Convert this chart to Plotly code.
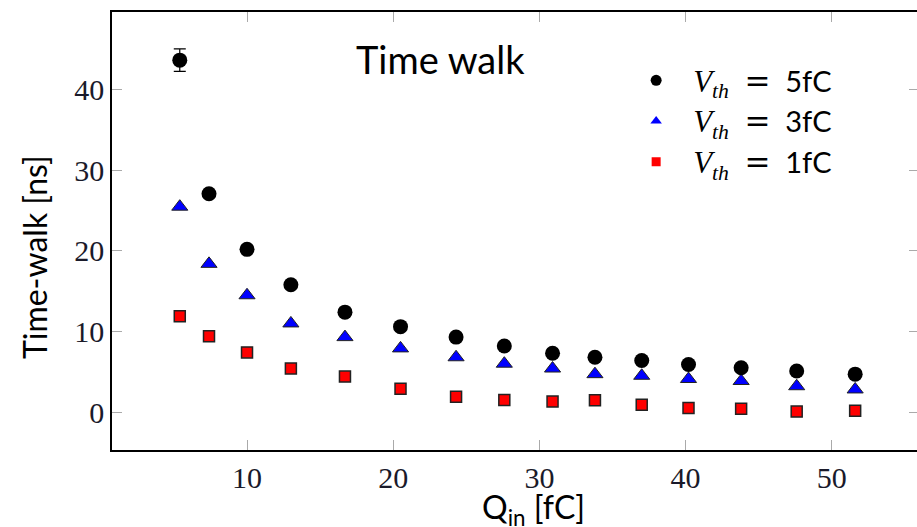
import plotly.graph_objects as go

q_in = [5.4, 7.4, 10.0, 13.0, 16.7, 20.5, 24.3, 27.6, 30.9, 33.8, 37.0, 40.2, 43.8, 47.6, 51.6]
tw_5fc = [43.7, 27.1, 20.2, 15.8, 12.4, 10.6, 9.3, 8.2, 7.3, 6.8, 6.4, 5.9, 5.5, 5.1, 4.7]
err_5fc = [1.4, 0, 0, 0, 0, 0, 0, 0, 0, 0, 0, 0, 0, 0, 0]
tw_3fc = [25.5, 18.4, 14.5, 11.0, 9.3, 7.9, 6.8, 6.0, 5.4, 4.7, 4.5, 4.1, 3.85, 3.2, 2.8]
tw_1fc = [11.9, 9.4, 7.4, 5.4, 4.4, 2.9, 1.9, 1.5, 1.3, 1.45, 0.9, 0.5, 0.4, 0.05, 0.15]

x_ticks = [10, 20, 30, 40, 50]
y_ticks = [0, 10, 20, 30, 40]
x_range = [0.764, 55.83]
y_range = [-4.72, 49.68]

serif = "Liberation Serif, DejaVu Serif, serif"
sans = "Lato, Open Sans, sans-serif"

def leg(v):
    return ('<span style="font-family:Liberation Serif;font-size:31px"><i>V<sub>th</sub></i>&nbsp;&nbsp;</span>'
            '<span style="font-family:DejaVu Serif;font-size:31px">=</span>'
            '&nbsp;&nbsp;' + v)

fig = go.Figure()
fig.add_trace(go.Scatter(x=q_in, y=tw_1fc, mode="markers", showlegend=False,
                         marker=dict(symbol="square", size=11, color="#ff0000",
                                     line=dict(color="#222", width=1.5))))
fig.add_trace(go.Scatter(x=q_in, y=tw_3fc, mode="markers", showlegend=False,
                         marker=dict(symbol="triangle-up", size=14, color="#0000ff",
                                     line=dict(color="#222", width=1))))
fig.add_trace(go.Scatter(x=q_in, y=tw_5fc, mode="markers", showlegend=False,
                         error_y=dict(type="data", array=err_5fc, color="black",
                                      thickness=1.2, width=6),
                         marker=dict(symbol="circle", size=15, color="black")))

# legend entries
fig.add_trace(go.Scatter(x=[None], y=[None], mode="markers", name=leg("5fC"),
                         marker=dict(symbol="circle", size=11, color="black")))
fig.add_trace(go.Scatter(x=[None], y=[None], mode="markers", name=leg("3fC"),
                         marker=dict(symbol="triangle-up", size=10, color="#0000ff")))
fig.add_trace(go.Scatter(x=[None], y=[None], mode="markers", name=leg("1fC"),
                         marker=dict(symbol="square", size=9, color="#ff0000")))

# right axis used only for the mirrored ticks (no line, as in the reference)
fig.add_trace(go.Scatter(x=[None], y=[None], yaxis="y2", showlegend=False))

tickfont = dict(family=serif, size=30, color="#1a1a2a")

fig.update_layout(
    width=917, height=527,
    margin=dict(l=112, r=0, t=12, b=77),
    paper_bgcolor="white", plot_bgcolor="white",
    xaxis=dict(range=x_range, tickvals=x_ticks, showgrid=False, zeroline=False,
               showline=True, linecolor="black", linewidth=1.5, mirror="ticks",
               ticks="inside", ticklen=10, tickcolor="#aaaaaa", tickwidth=1,
               tickfont=tickfont),
    yaxis=dict(range=y_range, tickvals=y_ticks, showgrid=False, zeroline=False,
               showline=True, linecolor="black", linewidth=1.5, mirror=False,
               ticks="inside", ticklen=10, tickcolor="#aaaaaa", tickwidth=1,
               tickfont=tickfont),
    yaxis2=dict(range=y_range, tickvals=y_ticks, overlaying="y", side="right",
                showgrid=False, zeroline=False, showline=False, showticklabels=False,
                ticks="inside", ticklen=8, tickcolor="#aaaaaa", tickwidth=1),
    legend=dict(x=0.630, y=0.902, xanchor="left", yanchor="top",
                font=dict(family=sans, size=29, color="black"),
                bgcolor="rgba(0,0,0,0)", tracegroupgap=0, itemsizing="trace",
                itemwidth=64),
    annotations=[
        dict(text="Time walk", x=0.4075, y=0.893, xref="paper", yref="paper",
             xanchor="center", yanchor="middle", showarrow=False,
             font=dict(family=sans, size=38, color="black")),
        dict(text="Q<sub>in</sub> [fC]", x=0.524, y=-0.135, xref="paper", yref="paper",
             xanchor="center", yanchor="middle", showarrow=False,
             font=dict(family=sans, size=32, color="black")),
        dict(text="Time-walk [ns]", x=-0.0968, y=0.4406, xref="paper", yref="paper",
             xanchor="center", yanchor="middle", textangle=-90, showarrow=False,
             font=dict(family=sans, size=32, color="black")),
    ],
    showlegend=True,
)

fig.write_html("out.html")
